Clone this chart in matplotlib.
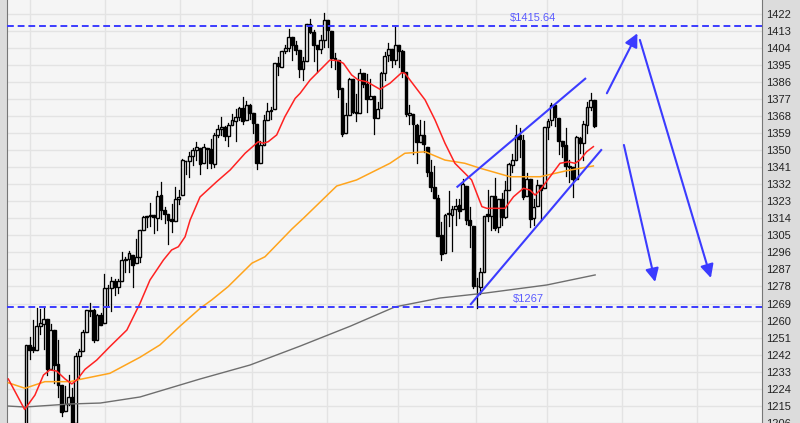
import matplotlib.pyplot as plt
from matplotlib.patches import Rectangle

plt.rcParams['font.family'] = ['Liberation Sans', 'DejaVu Sans']

# daily bars, 22 Nov 2011 .. 20 Jul 2012
opens = [1192.98, 1187.48, 1161.41, 1158.67, 1192.56, 1196.72,
         1246.91, 1246.03, 1244.33, 1257.19, 1258.14, 1260.87, 1234.48, 1255.05, 1236.83, 1225.73,
         1212.12, 1216.09, 1219.74, 1205.72, 1241.25, 1243.72, 1254.00, 1265.02, 1265.38, 1249.75, 1262.82,
         1258.86, 1277.03, 1277.30, 1280.93, 1277.83, 1280.77, 1292.02, 1292.48, 1294.82, 1290.22,
         1293.65, 1308.07, 1314.49, 1315.29, 1315.96, 1314.40, 1326.28, 1318.25, 1316.16, 1313.53,
         1312.45, 1324.24, 1326.21, 1344.32, 1344.33, 1347.04, 1349.97, 1351.21, 1343.06, 1351.30,
         1350.52, 1342.61, 1358.06, 1361.22, 1362.11, 1357.53, 1363.46, 1365.20, 1367.56, 1372.20,
         1365.90, 1374.09, 1369.59, 1363.63, 1343.39, 1352.65, 1365.97, 1370.78, 1371.92, 1395.95, 1394.17,
         1402.55, 1404.17, 1409.59, 1405.52, 1402.89, 1392.78, 1397.11, 1416.55, 1412.52, 1405.39, 1403.31,
         1408.47, 1418.98, 1413.09, 1398.79, 1397.45, 1383.01, 1358.98, 1368.77, 1387.61, 1370.27,
         1369.57, 1390.78, 1385.08, 1376.96, 1378.53, 1366.97, 1372.11, 1390.64, 1400.19, 1403.26,
         1397.86, 1405.50, 1402.32, 1391.51, 1368.79, 1369.16, 1363.20, 1354.58, 1358.11, 1351.93, 1338.36,
         1330.78, 1324.82, 1305.05, 1295.73, 1316.09, 1316.02, 1318.72, 1320.81, 1318.90, 1331.25, 1313.09,
         1309.87, 1278.29, 1277.82, 1285.61, 1316.15, 1314.99, 1325.72, 1309.40, 1324.02, 1314.88, 1329.19,
         1342.42, 1344.83, 1358.04, 1355.43, 1325.92, 1334.90, 1314.09, 1320.71, 1331.52, 1330.12,
         1362.33, 1365.75, 1373.72, 1367.09, 1354.66, 1352.96, 1341.40, 1341.29, 1334.81, 1356.50,
         1353.68, 1363.58, 1373.01, 1376.51]
highs = [1196.81, 1187.48, 1172.66, 1197.35, 1203.67, 1247.11,
         1251.09, 1260.08, 1266.73, 1266.03, 1267.06, 1260.87, 1258.25, 1255.05, 1249.86, 1225.73,
         1225.60, 1231.04, 1224.57, 1242.82, 1245.09, 1255.22, 1265.42, 1269.37, 1265.85, 1263.54, 1264.12,
         1284.62, 1278.73, 1283.05, 1281.84, 1281.99, 1296.46, 1293.80, 1296.82, 1294.82, 1303.00,
         1308.11, 1315.49, 1315.38, 1322.28, 1315.96, 1328.30, 1333.47, 1320.06, 1316.16, 1321.41,
         1330.52, 1329.19, 1345.34, 1344.36, 1349.24, 1351.00, 1354.32, 1351.21, 1353.35, 1351.30,
         1355.87, 1359.02, 1363.40, 1367.76, 1362.70, 1364.24, 1368.92, 1371.94, 1373.09, 1378.04,
         1376.17, 1374.53, 1369.59, 1363.63, 1354.85, 1368.72, 1374.76, 1373.04, 1396.13, 1399.42, 1402.63,
         1405.88, 1414.00, 1409.59, 1407.75, 1402.89, 1399.18, 1416.58, 1419.15, 1413.65, 1405.39, 1410.89,
         1422.38, 1419.00, 1413.09, 1401.60, 1397.45, 1383.01, 1374.71, 1388.13, 1387.61, 1379.66,
         1392.76, 1390.78, 1390.46, 1387.40, 1378.53, 1375.57, 1391.37, 1402.09, 1406.64, 1403.26,
         1415.32, 1405.50, 1403.07, 1391.51, 1373.91, 1369.16, 1363.73, 1365.88, 1365.66, 1351.93, 1344.94,
         1341.78, 1326.36, 1312.24, 1316.39, 1328.49, 1320.71, 1324.14, 1324.20, 1334.93, 1331.25, 1319.74,
         1309.87, 1282.55, 1287.62, 1315.13, 1329.05, 1325.81, 1335.52, 1324.31, 1327.28, 1333.68, 1343.32,
         1348.22, 1363.46, 1361.57, 1358.27, 1337.82, 1334.90, 1324.24, 1334.40, 1331.52, 1362.17,
         1366.35, 1374.81, 1373.85, 1367.09, 1354.87, 1361.54, 1345.00, 1341.29, 1357.70, 1357.26,
         1365.36, 1375.26, 1380.39, 1376.51]
lows = [1181.65, 1161.79, 1158.66, 1158.67, 1191.80, 1196.72,
        1239.73, 1243.35, 1244.33, 1253.03, 1244.80, 1231.47, 1234.48, 1227.25, 1219.43, 1209.47,
        1212.12, 1215.20, 1202.37, 1205.72, 1229.51, 1243.72, 1254.00, 1262.30, 1248.64, 1249.75, 1257.46,
        1258.86, 1268.10, 1265.26, 1273.34, 1274.55, 1280.77, 1285.41, 1285.77, 1277.58, 1290.22,
        1290.99, 1308.07, 1309.17, 1309.89, 1306.06, 1307.65, 1313.60, 1311.72, 1300.49, 1306.69,
        1312.45, 1321.57, 1326.21, 1337.52, 1335.92, 1341.95, 1344.63, 1337.35, 1343.06, 1340.83,
        1340.80, 1341.22, 1357.24, 1358.11, 1355.53, 1352.28, 1363.46, 1354.92, 1365.97, 1363.81,
        1365.90, 1366.42, 1359.13, 1340.03, 1343.39, 1352.65, 1365.97, 1366.69, 1371.92, 1389.97, 1394.17,
        1401.47, 1402.43, 1397.68, 1400.64, 1388.73, 1386.87, 1397.11, 1411.95, 1397.20, 1391.56, 1401.42,
        1404.46, 1404.62, 1394.09, 1392.92, 1378.24, 1357.38, 1358.98, 1368.77, 1369.85, 1365.38,
        1369.57, 1383.29, 1370.30, 1376.96, 1358.79, 1366.82, 1372.11, 1387.28, 1397.31, 1394.00,
        1395.73, 1393.92, 1388.71, 1367.96, 1363.94, 1347.75, 1343.13, 1354.58, 1348.89, 1336.61, 1328.41,
        1324.79, 1304.86, 1291.98, 1295.73, 1310.04, 1296.53, 1310.50, 1314.23, 1318.90, 1310.76, 1298.90,
        1277.25, 1266.74, 1274.16, 1285.61, 1312.68, 1307.77, 1307.73, 1306.62, 1310.51, 1314.14, 1329.19,
        1338.63, 1344.83, 1346.45, 1324.41, 1325.92, 1309.27, 1310.30, 1320.71, 1313.29, 1330.12,
        1355.70, 1363.53, 1363.02, 1348.03, 1346.65, 1336.27, 1333.25, 1325.41, 1334.81, 1348.51,
        1345.07, 1358.96, 1371.21, 1362.19]
closes = [1188.04, 1161.79, 1158.67, 1192.55, 1195.19, 1246.96,
          1244.58, 1244.28, 1257.08, 1258.47, 1261.01, 1234.35, 1255.19, 1236.47, 1225.73, 1211.82,
          1215.75, 1219.66, 1205.35, 1241.30, 1243.72, 1254.00, 1265.33, 1265.43, 1249.64, 1263.02, 1257.60,
          1277.06, 1277.30, 1281.06, 1277.81, 1280.70, 1292.08, 1292.48, 1295.50, 1289.09, 1293.67,
          1308.04, 1314.50, 1315.38, 1316.00, 1314.65, 1326.06, 1318.43, 1316.33, 1313.01, 1312.41,
          1324.09, 1325.54, 1344.90, 1344.33, 1347.05, 1349.96, 1351.95, 1342.64, 1351.77, 1350.50,
          1343.23, 1358.04, 1361.23, 1362.21, 1357.66, 1363.46, 1365.74, 1367.59, 1372.18, 1365.68,
          1374.09, 1369.63, 1364.33, 1343.36, 1352.63, 1365.91, 1370.87, 1371.09, 1395.95, 1394.28, 1402.60,
          1404.17, 1409.75, 1405.52, 1402.89, 1392.78, 1397.11, 1416.51, 1412.52, 1405.54, 1403.28, 1408.47,
          1419.04, 1413.38, 1398.96, 1398.08, 1382.20, 1358.59, 1368.71, 1387.57, 1370.26, 1369.57,
          1390.78, 1385.14, 1376.92, 1378.53, 1366.94, 1371.97, 1390.69, 1399.98, 1403.36, 1397.91,
          1405.82, 1402.31, 1391.57, 1369.10, 1369.58, 1363.72, 1354.58, 1357.99, 1353.39, 1338.35, 1330.66,
          1324.80, 1304.86, 1295.22, 1315.99, 1316.63, 1318.86, 1320.68, 1317.82, 1332.42, 1313.32, 1310.33,
          1278.04, 1278.18, 1285.50, 1315.13, 1314.99, 1325.66, 1308.93, 1324.18, 1314.88, 1329.10, 1342.84,
          1344.78, 1357.98, 1355.69, 1325.51, 1335.02, 1313.72, 1319.99, 1331.85, 1329.04, 1362.16,
          1365.51, 1374.02, 1367.58, 1354.68, 1352.46, 1341.47, 1341.45, 1334.76, 1356.78, 1353.64,
          1363.67, 1372.78, 1376.51, 1362.66]

# moving averages (bar index, value)
ma_short_x = [0, 4.6, 7.5, 9.9, 11.7, 13.6, 16.0, 17.9, 19.3, 21.6, 24.9, 28.6, 33.4, 37.1, 39.9,
              43.7, 46.0, 47.9, 49.8, 51.2, 54.0, 58.7, 62.5, 66.7, 70.4, 71.8, 73.2, 75.6, 77.9,
              80.8, 82.2, 85.0, 87.8, 90.6, 93.0, 94.4, 96.7, 98.6, 101.0, 104.7, 107.5, 110.8,
              111.7, 117.4, 120.2, 123.0, 125.8, 130.5, 133.4, 134.8, 139.9, 142.3, 145.1, 146.9,
              148.4, 149.8, 152.6, 155.4, 157.7, 159.6, 161.0, 162.9, 164.8]
ma_short = [1229.1, 1213.0, 1220.6, 1231.2, 1233.9, 1233.3, 1229.1, 1226.5, 1228.6, 1234.2, 1239.1,
            1246.2, 1255.0, 1269.1, 1281.4, 1292.0, 1297.3, 1299.0, 1304.3, 1313.1, 1325.3, 1333.4,
            1339.6, 1348.4, 1354.5, 1353.7, 1354.5, 1358.1, 1367.7, 1377.4, 1380.1, 1387.1, 1392.4,
            1397.7, 1397.3, 1395.9, 1389.8, 1387.1, 1386.2, 1382.2, 1385.4, 1391.0, 1390.7, 1376.6,
            1366.0, 1353.7, 1343.1, 1334.3, 1320.2, 1319.3, 1319.3, 1325.4, 1329.9, 1329.0, 1326.3,
            1329.0, 1336.0, 1343.1, 1343.9, 1343.1, 1344.8, 1349.2, 1351.9]
ma_mid_x = [0, 4.7, 10.3, 17.4, 20.2, 28.6, 37.1, 42.7, 48.4, 54.0, 57.3, 61.9, 68.6, 72.3, 79.9,
            83.1, 92.5, 98.1, 102.8, 107.5, 111.7, 117.4, 123.0, 128.6, 132.9, 141.3, 149.8, 157.3, 164.8]
ma_mid = [1227.1, 1224.2, 1227.7, 1227.7, 1228.9, 1232.1, 1240.6, 1247.1, 1257.1, 1266.4, 1270.9,
          1277.9, 1290.3, 1293.7, 1308.4, 1314.0, 1331.1, 1334.3, 1338.7, 1343.1, 1348.4, 1349.2,
          1344.8, 1343.1, 1340.5, 1336.0, 1336.0, 1339.2, 1341.7]
ma_long_x = [0, 4.7, 17.4, 25.9, 37.1, 54.0, 68.1, 82.2, 96.3, 108.9, 121.6, 134.3, 151.7, 165.3]
ma_long = [1214.8, 1214.3, 1215.9, 1216.4, 1219.6, 1229.1, 1236.5, 1246.5, 1257.0, 1267.2, 1271.9,
           1274.5, 1278.8, 1284.1]

resistance = 1415.64
support = 1267
# trend channel and projected moves (bar index, price)
channel_top = [(126.5, 1330.7), (162.5, 1387.8)]
channel_bottom = [(130.3, 1268.7), (167.0, 1350.1)]
arrows = [((168.6, 1380.1), (177.2, 1411.8)),
          ((173.4, 1352.8), (182.2, 1280.4)),
          ((177.9, 1408.3), (197.9, 1282.5))]
month_lines = [6.1, 27.2, 48.4, 68.6, 89.8, 109.8, 131.7, 151.7, 172.9, 194.0]

blue = '#3b3bff'
fig = plt.figure(figsize=(8, 4.23), dpi=100, facecolor='#dcdcdc')
ax = fig.add_axes([7 / 800, 0, 755 / 800, 1])
ax.set_facecolor('#f5f5f5')

ax.set_xlim(-0.37, 212.3)
ax.set_ylim(1205.85, 1429.4)
ax.set_yticks(range(1206, 1423, 9))
ax.yaxis.tick_right()
ax.tick_params(axis='y', length=0, pad=3, labelsize=8, labelcolor='#222222')
ax.set_xticks(month_lines)
ax.tick_params(axis='x', length=0, labelbottom=False)
ax.grid(True, color='#e3e3e3', lw=1.0)
ax.set_axisbelow(True)
for s in ['top', 'bottom']:
    ax.spines[s].set_visible(False)
ax.spines['left'].set_color('#777777')
ax.spines['right'].set_color('#777777')
ax.text(1.004, 1431, '1431', transform=ax.get_yaxis_transform(), fontsize=8,
        color='#222222', va='center', ha='left', clip_on=False)

w = 0.8
for i in range(len(closes)):
    o, h, l, c = opens[i], highs[i], lows[i], closes[i]
    ax.plot([i, i], [l, h], color='black', lw=0.9, zorder=3)
    fc = 'white' if c >= o else 'black'
    ax.add_patch(Rectangle((i - w / 2, min(o, c)), w, abs(c - o), facecolor=fc,
                           edgecolor='black', lw=1.0, zorder=4))

ax.plot(ma_long_x, ma_long, color='#6e6e6e', lw=1, zorder=5)
ax.plot(ma_mid_x, ma_mid, color='#ffa41c', lw=1.1, zorder=5)
ax.plot(ma_short_x, ma_short, color='#ff2222', lw=1.1, zorder=5)

dash = (0, (3.5, 2.0))
ax.axhline(resistance, color=blue, lw=1.4, ls=dash, zorder=6)
ax.axhline(support, color=blue, lw=1.4, ls=dash, zorder=6)
ax.text(147.8, resistance + 1.6, '$%.2f' % resistance, color='#5a5aff', fontsize=8,
        ha='center', va='bottom', zorder=7)
ax.text(146.4, support + 1.6, '$%d' % support, color='#5a5aff', fontsize=8,
        ha='center', va='bottom', zorder=7)

for line in [channel_top, channel_bottom]:
    ax.plot([p[0] for p in line], [p[1] for p in line], color=blue, lw=1.5, zorder=6)
for start, tip in arrows:
    ax.annotate('', xy=tip, xytext=start,
                arrowprops=dict(arrowstyle='-|>', color=blue, lw=1.5, shrinkA=0, shrinkB=0,
                                mutation_scale=20), zorder=6)

fig.savefig('out.png', dpi=100, facecolor=fig.get_facecolor())
